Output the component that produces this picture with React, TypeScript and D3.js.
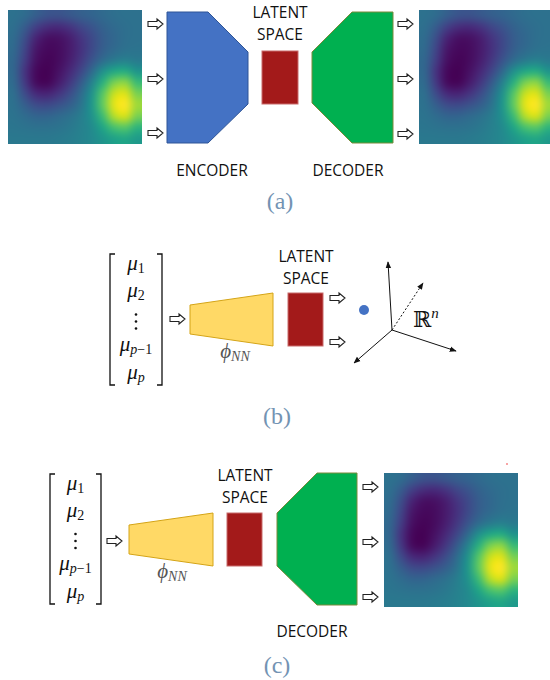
import React, { useMemo } from "react";
import * as d3 from "d3";

// heat field (12 x 12, viridis 0..1), row 0 = top
const heatGrid: number[][] = [
  [0.37, 0.35, 0.3, 0.26, 0.25, 0.27, 0.3, 0.32, 0.34, 0.36, 0.37, 0.37],
  [0.36, 0.29, 0.19, 0.13, 0.12, 0.15, 0.21, 0.26, 0.31, 0.34, 0.36, 0.37],
  [0.35, 0.24, 0.1, 0.04, 0.04, 0.08, 0.15, 0.22, 0.29, 0.33, 0.36, 0.37],
  [0.34, 0.21, 0.06, 0.02, 0.03, 0.07, 0.14, 0.22, 0.3, 0.34, 0.37, 0.38],
  [0.33, 0.18, 0.04, 0.01, 0.03, 0.08, 0.16, 0.26, 0.35, 0.41, 0.43, 0.41],
  [0.33, 0.15, 0.02, 0.0, 0.04, 0.11, 0.21, 0.34, 0.5, 0.6, 0.62, 0.52],
  [0.34, 0.17, 0.03, 0.01, 0.07, 0.16, 0.28, 0.44, 0.64, 0.8, 0.83, 0.68],
  [0.36, 0.23, 0.12, 0.1, 0.15, 0.23, 0.34, 0.51, 0.74, 0.92, 0.95, 0.8],
  [0.37, 0.3, 0.23, 0.22, 0.25, 0.3, 0.38, 0.53, 0.76, 0.96, 1.0, 0.86],
  [0.38, 0.35, 0.32, 0.32, 0.34, 0.37, 0.42, 0.51, 0.69, 0.89, 0.94, 0.8],
  [0.39, 0.38, 0.37, 0.37, 0.38, 0.4, 0.43, 0.48, 0.59, 0.71, 0.74, 0.65],
  [0.4, 0.4, 0.4, 0.4, 0.41, 0.42, 0.44, 0.47, 0.52, 0.57, 0.59, 0.54],
];

const panelLabels = ["(a)", "(b)", "(c)"];
const latentLabel = ["LATENT", "SPACE"];
const encoderLabel = "ENCODER";
const decoderLabel = "DECODER";
// mu vector entries: [base, subscript]
const muEntries: [string, string][] = [
  ["μ", "1"],
  ["μ", "2"],
  ["⋮", ""],
  ["μ", "p−1"],
  ["μ", "p"],
];

const colors = {
  encoder: "#4472c4",
  encoderEdge: "#2f5597",
  decoder: "#00b050",
  decoderEdge: "#7a8a3a",
  latent: "#a31a1a",
  latentEdge: "#c86a6a",
  nn: "#ffd966",
  nnEdge: "#d4a417",
  label: "#7393b3",
};

const sans = "'Open Sans', 'DejaVu Sans', sans-serif";
const serif = "'Liberation Serif', 'DejaVu Serif', serif";

const color = d3.scaleSequential(d3.interpolateViridis).domain([0, 1]);

function useHeatUrl() {
  return useMemo(() => {
    const n = heatGrid.length;
    const small = document.createElement("canvas");
    small.width = n;
    small.height = n;
    const ctx = small.getContext("2d")!;
    heatGrid.forEach((row, j) =>
      row.forEach((v, i) => {
        ctx.fillStyle = color(v);
        ctx.fillRect(i, j, 1, 1);
      })
    );
    // upscale once with smoothing so the svg image stays soft
    const big = document.createElement("canvas");
    big.width = 134;
    big.height = 134;
    const bctx = big.getContext("2d")!;
    bctx.imageSmoothingEnabled = true;
    bctx.imageSmoothingQuality = "high";
    bctx.drawImage(small, 0, 0, 134, 134);
    return big.toDataURL();
  }, []);
}

function Heat({ x, y, size, url }: { x: number; y: number; size: number; url: string }) {
  return <image href={url} x={x} y={y} width={size} height={size} preserveAspectRatio="none" />;
}

// hollow block arrow ⇨
function BlockArrow({ x, y }: { x: number; y: number }) {
  const p = d3.path();
  p.moveTo(x, y - 2.5);
  p.lineTo(x + 9, y - 2.5);
  p.lineTo(x + 9, y - 5);
  p.lineTo(x + 15, y);
  p.lineTo(x + 9, y + 5);
  p.lineTo(x + 9, y + 2.5);
  p.lineTo(x, y + 2.5);
  p.closePath();
  return <path d={p.toString()} fill="#fff" stroke="#222" strokeWidth={1.1} />;
}

function Poly({ pts, fill, stroke }: { pts: [number, number][]; fill: string; stroke: string }) {
  const gen = d3.line().curve(d3.curveLinearClosed);
  return <path d={gen(pts) ?? ""} fill={fill} stroke={stroke} strokeWidth={1} />;
}

function Latent({ x, y, w, h, cx, ty }: { x: number; y: number; w: number; h: number; cx: number; ty: number }) {
  return (
    <g>
      <rect x={x} y={y} width={w} height={h} fill={colors.latent} stroke={colors.latentEdge} strokeWidth={1} />
      {latentLabel.map((t, i) => (
        <text key={t} x={cx} y={ty + i * 22} textAnchor="middle" style={{ fontFamily: sans, fontSize: 15.5 }} fill="#111">
          {t}
        </text>
      ))}
    </g>
  );
}

function MuVector({ x0, x1, y0, y1 }: { x0: number; x1: number; y0: number; y1: number }) {
  const cx = (x0 + x1) / 2;
  const ys = d3.scaleLinear().domain([0, muEntries.length - 1]).range([y0 + 16, y1 - 6]);
  const offs = [0, 0, 2, -1, 0];
  return (
    <g>
      <path d={`M${x0 + 5},${y0} H${x0} V${y1} H${x0 + 5}`} fill="none" stroke="#111" strokeWidth={1.3} />
      <path d={`M${x1 - 5},${y0} H${x1} V${y1} H${x1 - 5}`} fill="none" stroke="#111" strokeWidth={1.3} />
      {muEntries.map(([b, s], i) =>
        b === "⋮" ? (
          <g key={i}>
            {[-7, 0, 7].map((dy) => (
              <circle key={dy} cx={cx} cy={ys(i) - 5 + dy + offs[i]} r={1.3} fill="#111" />
            ))}
          </g>
        ) : (
          <text key={i} x={cx} y={ys(i) + offs[i]} textAnchor="middle" style={{ fontFamily: serif, fontSize: 21 }} fill="#111">
            <tspan fontStyle="italic">{b}</tspan>
            <tspan style={{ fontSize: 14 }} dy={3}>
              {s.split("").map((ch, k) => (
                <tspan key={k} fontStyle={ch === "p" ? "italic" : "normal"}>
                  {ch}
                </tspan>
              ))}
            </tspan>
          </text>
        )
      )}
    </g>
  );
}

function Phi({ x, y }: { x: number; y: number }) {
  return (
    <text x={x} y={y} textAnchor="middle" style={{ fontFamily: serif, fontSize: 21 }} fill="#555">
      <tspan fontStyle="italic">ϕ</tspan>
      <tspan style={{ fontSize: 14 }} dy={3} fontStyle="italic">
        NN
      </tspan>
    </text>
  );
}

function PanelLabel({ x, y, t }: { x: number; y: number; t: string }) {
  return (
    <text x={x} y={y} textAnchor="middle" style={{ fontFamily: serif, fontSize: 24 }} fill={colors.label}>
      {t}
    </text>
  );
}

export default function App() {
  const url = useHeatUrl();
  const axes: { to: [number, number]; dash?: string }[] = [
    { to: [388, 262] },
    { to: [423, 283], dash: "2,2" },
    { to: [456, 351] },
    { to: [354, 363] },
  ];
  const origin: [number, number] = [392, 330];

  return (
    <svg width={550} height={680} style={{ position: "absolute", left: 0, top: 0, background: "#fff" }}>
      <defs>
        <marker id="ah" viewBox="0 0 10 10" refX={9} refY={5} markerWidth={7} markerHeight={7} orient="auto-start-reverse">
          <path d="M0,1 L10,5 L0,9 Z" fill="#111" />
        </marker>
        <clipPath id="pageClip">
          <rect x={0} y={0} width={550} height={680} />
        </clipPath>
      </defs>

      {/* (a) autoencoder */}
      <Heat x={8} y={10} size={134} url={url} />
      {[24, 79, 133].map((y) => (
        <BlockArrow key={`l${y}`} x={148} y={y} />
      ))}
      <Poly
        pts={[[167, 12], [208, 12], [248, 52], [248, 104], [208, 143], [167, 143]]}
        fill={colors.encoder}
        stroke={colors.encoderEdge}
      />
      <Latent x={262} y={51} w={36} h={53} cx={280} ty={18} />
      <Poly
        pts={[[312, 52], [352, 12], [393, 12], [393, 143], [352, 143], [312, 103]]}
        fill={colors.decoder}
        stroke={colors.decoderEdge}
      />
      {[24, 79, 134].map((y) => (
        <BlockArrow key={`r${y}`} x={398} y={y} />
      ))}
      <g clipPath="url(#pageClip)">
        <Heat x={419} y={10} size={134} url={url} />
      </g>
      <text x={212} y={176} textAnchor="middle" style={{ fontFamily: sans, fontSize: 15.5 }} fill="#111">
        {encoderLabel}
      </text>
      <text x={348} y={176} textAnchor="middle" style={{ fontFamily: sans, fontSize: 15.5 }} fill="#111">
        {decoderLabel}
      </text>
      <PanelLabel x={280} y={209} t={panelLabels[0]} />

      {/* (b) parameters to latent space */}
      <MuVector x0={110} x1={162} y0={254} y1={385} />
      <BlockArrow x={170} y={319} />
      <Poly pts={[[190, 305], [273, 293], [273, 346], [190, 334]]} fill={colors.nn} stroke={colors.nnEdge} />
      <Phi x={235} y={358} />
      <Latent x={288} y={293} w={35} h={53} cx={306} ty={262} />
      <BlockArrow x={330} y={298} />
      <BlockArrow x={330} y={342} />
      <circle cx={364} cy={310} r={5} fill={colors.encoder} />
      {axes.map((a, i) => (
        <line
          key={i}
          x1={origin[0]}
          y1={origin[1]}
          x2={a.to[0]}
          y2={a.to[1]}
          stroke="#111"
          strokeWidth={1}
          strokeDasharray={a.dash}
          markerEnd="url(#ah)"
        />
      ))}
      <text x={413} y={327} style={{ fontFamily: "'DejaVu Serif', serif", fontSize: 22 }} fill="#111">
        ℝ
        <tspan style={{ fontFamily: serif, fontSize: 15 }} fontStyle="italic" dy={-9}>
          n
        </tspan>
      </text>
      <PanelLabel x={277} y={424} t={panelLabels[1]} />

      {/* (c) parameters to reconstruction */}
      <MuVector x0={50} x1={101} y0={474} y1={604} />
      <BlockArrow x={107} y={541} />
      <Poly pts={[[129, 525], [213, 513], [213, 566], [129, 554]]} fill={colors.nn} stroke={colors.nnEdge} />
      <Phi x={172} y={578} />
      <Latent x={227} y={513} w={35} h={53} cx={245} ty={481} />
      <Poly
        pts={[[277, 513], [317, 473], [357, 473], [357, 605], [317, 605], [277, 566]]}
        fill={colors.decoder}
        stroke={colors.decoderEdge}
      />
      {[487, 542, 597].map((y) => (
        <BlockArrow key={`c${y}`} x={363} y={y} />
      ))}
      <Heat x={384} y={473} size={134} url={url} />
      <circle cx={507} cy={464} r={0.8} fill="#e33" />
      <text x={312} y={637} textAnchor="middle" style={{ fontFamily: sans, fontSize: 15.5 }} fill="#111">
        {decoderLabel}
      </text>
      <PanelLabel x={277} y={673} t={panelLabels[2]} />
    </svg>
  );
}
